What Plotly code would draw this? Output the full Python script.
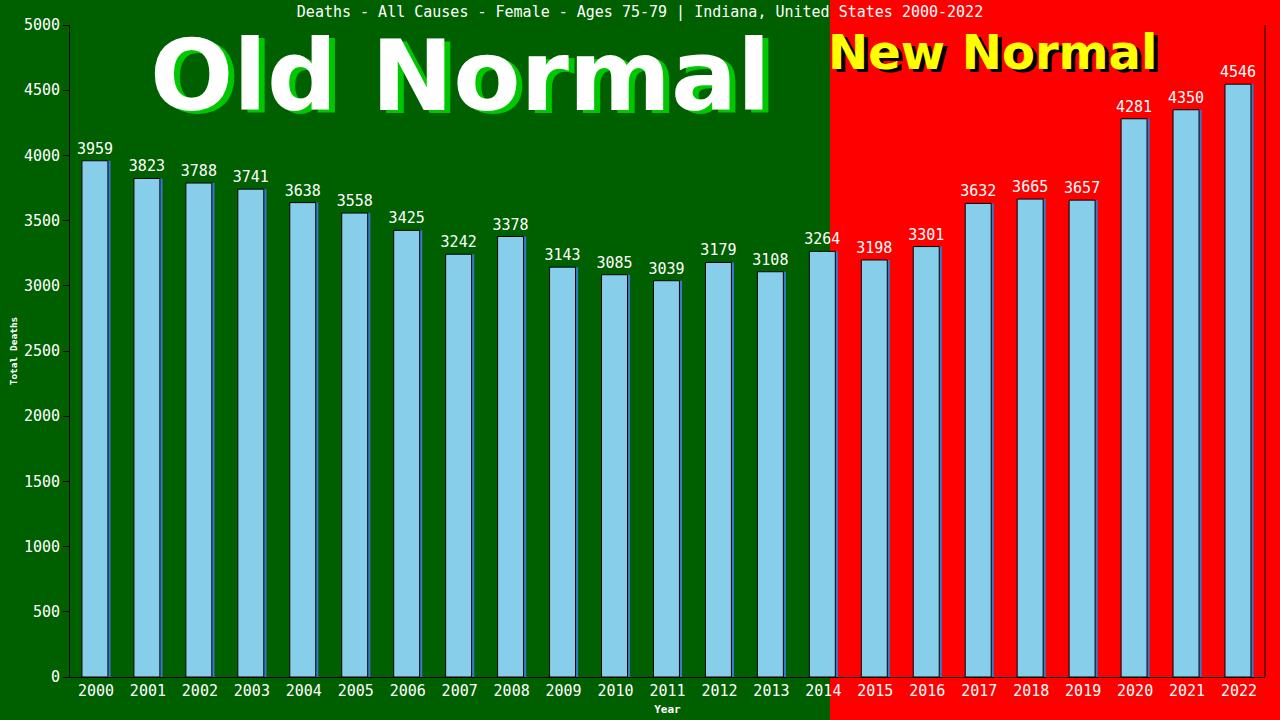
import plotly.graph_objects as go

years = [str(y) for y in range(2000, 2023)]
deaths = [3959, 3823, 3788, 3741, 3638, 3558, 3425, 3242, 3378, 3143, 3085, 3039,
          3179, 3108, 3264, 3198, 3301, 3632, 3665, 3657, 4281, 4350, 4546]
title = "Deaths - All Causes - Female - Ages 75-79 | Indiana, United States 2000-2022"

mono = "DejaVu Sans Mono"

fig = go.Figure()

# shadow bar (blue edge on the right)
fig.add_trace(go.Bar(
    x=years, y=deaths, width=0.5, offset=-0.22,
    marker=dict(color="#3a78c8", line=dict(width=0)),
    hoverinfo="skip", showlegend=False,
))
fig.add_trace(go.Bar(
    x=years, y=deaths, width=0.5, offset=-0.27,
    marker=dict(color="#87ceeb", line=dict(color="#000000", width=1)),
    text=[str(v) for v in deaths], textposition="outside", constraintext="none",
    textfont=dict(family=mono, size=15, color="white"),
    cliponaxis=False, showlegend=False,
))

# red "new normal" zone
fig.add_shape(type="rect", xref="paper", yref="paper",
              x0=(830 - 70) / 1195, x1=1.2, y0=-0.2, y1=1.2,
              fillcolor="#ff0000", line=dict(width=0), layer="below")

big = dict(xref="paper", yref="paper", showarrow=False, xanchor="center", yanchor="middle")
fig.add_annotation(text="<b>Old Normal</b>", x=(460 - 70) / 1195, y=(677 - 76) / 652,
                   font=dict(family="DejaVu Sans", size=98, color="white",
                             shadow="6px 3px 0px #00c800"), **big)
fig.add_annotation(text="<b>New Normal</b>", x=(992 - 70) / 1195, y=(677 - 52) / 652,
                   font=dict(family="DejaVu Sans", size=48, color="#ffff00",
                             shadow="4px 3px 0px black"), **big)

fig.update_layout(
    width=1280, height=720,
    paper_bgcolor="#006000", plot_bgcolor="rgba(0,0,0,0)",
    margin=dict(l=70, r=15, t=25, b=43, autoexpand=False),
    bargap=0.5,
    title=dict(text=title, x=0.5, y=0.983, xanchor="center", yanchor="middle",
               font=dict(family=mono, size=15, color="white")),
    xaxis=dict(
        title=dict(text="<b>Year</b>", font=dict(family=mono, size=11, color="white"), standoff=6),
        tickfont=dict(family=mono, size=15, color="white"),
        showgrid=False, showline=True, linecolor="black", linewidth=1,
        ticks="", automargin=False,
    ),
    yaxis=dict(
        title=dict(text="<b>Total Deaths</b>", font=dict(family=mono, size=9.5, color="white"), standoff=4),
        tickfont=dict(family=mono, size=15, color="white"),
        range=[0, 5000], dtick=500,
        showgrid=False, showline=True, linecolor="black", linewidth=1,
        ticks="outside", ticklen=6, tickcolor="black", zeroline=False, automargin=False,
    ),
)

# right border line
fig.add_shape(type="line", xref="paper", yref="paper", x0=1, x1=1, y0=0, y1=1,
              line=dict(color="black", width=1))

fig.write_html("out.html", config={"displayModeBar": False},
               post_script="document.body.style.margin='0';document.body.style.background='#006000';")
